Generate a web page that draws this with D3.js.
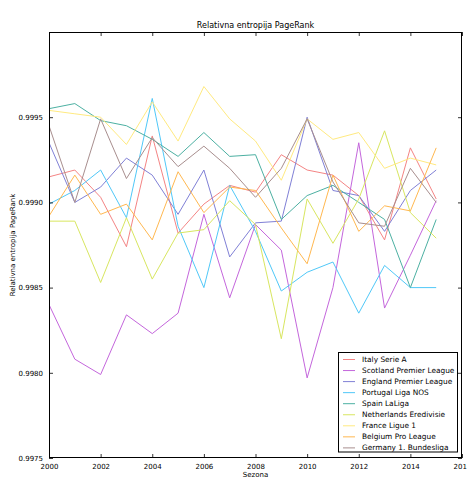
<!DOCTYPE html>
<html>
<head>
<meta charset="utf-8">
<script src="https://cdn.jsdelivr.net/npm/d3@7"></script>
<style>
html,body{margin:0;padding:0;background:#fff;}
svg{display:block;font-family:"DejaVu Sans",sans-serif;}
</style>
</head>
<body>
<svg id="chart" width="467" height="479"></svg>
<script>
const years = [2000,2001,2002,2003,2004,2005,2006,2007,2008,2009,2010,2011,2012,2013,2014,2015];
const leagues = ["Italy Serie A","Scotland Premier League","England Premier League","Portugal Liga NOS","Spain LaLiga","Netherlands Eredivisie","France Ligue 1","Belgium Pro League","Germany 1. Bundesliga"];
const italy       = [0.99915,0.99919,0.99903,0.99874,0.99939,0.99882,0.99899,0.99910,0.99906,0.99928,0.99919,0.99916,0.99904,0.99878,0.99932,0.99902];
const scotland    = [0.99840,0.99808,0.99799,0.99834,0.99823,0.99835,0.99893,0.99844,0.99887,0.99872,0.99797,0.99850,0.99935,0.99838,0.99869,0.99901];
const england     = [0.99935,0.99900,0.99909,0.99926,0.99916,0.99893,0.99919,0.99868,0.99888,0.99889,0.99950,0.99907,0.99904,0.99883,0.99907,0.99919];
const portugal    = [0.99899,0.99907,0.99919,0.99891,0.99961,0.99886,0.99850,0.99910,0.99883,0.99848,0.99859,0.99865,0.99835,0.99863,0.99850,0.99850];
const spain       = [0.99955,0.99958,0.99948,0.99945,0.99937,0.99927,0.99941,0.99927,0.99928,0.99890,0.99904,0.99910,0.99900,0.99890,0.99850,0.99890];
const netherlands = [0.99889,0.99889,0.99853,0.99891,0.99855,0.99882,0.99884,0.99901,0.99887,0.99820,0.99902,0.99876,0.99902,0.99942,0.99894,0.99879];
const france      = [0.99954,0.99952,0.99950,0.99934,0.99959,0.99936,0.99968,0.99949,0.99936,0.99913,0.99949,0.99937,0.99941,0.99920,0.99926,0.99922];
const belgium     = [0.99892,0.99916,0.99893,0.99899,0.99878,0.99918,0.99894,0.99909,0.99907,0.99885,0.99864,0.99916,0.99883,0.99898,0.99895,0.99932];
const germany     = [0.99945,0.99900,0.99949,0.99914,0.99938,0.99921,0.99933,0.99920,0.99903,0.99920,0.99949,0.99912,0.99888,0.99886,0.99920,0.99900];
const seriesValues = [italy,scotland,england,portugal,spain,netherlands,france,belgium,germany];
const colors = ["#f48484","#c466dc","#8080d6","#50c8f8","#4cb0a2","#d8e660","#ffea80","#ffb850","#a88e8e"];
const xTicks = [2000,2002,2004,2006,2008,2010,2012,2014,2016];
const yTicks = [0.9975,0.9980,0.9985,0.9990,0.9995,1.0000];
const yTickLabels = ["0.9975","0.9980","0.9985","0.9990","0.9995",""];

const svg = d3.select("#chart");
const L = 49, R = 462, T = 32, B = 458;
const x = d3.scaleLinear().domain([2000,2016]).range([L,R]);
const y = d3.scaleLinear().domain([0.9975,1.0000]).range([B,T]);

// lines
const line = d3.line().x((d,i)=>x(years[i])).y(d=>y(d));
svg.append("clipPath").attr("id","clip").append("rect")
  .attr("x",L).attr("y",T).attr("width",R-L).attr("height",B-T);
const g = svg.append("g").attr("clip-path","url(#clip)");
seriesValues.forEach((vals,k)=>{
  g.append("path").datum(vals).attr("d",line)
    .attr("fill","none").attr("stroke",colors[k]).attr("stroke-width",1);
});

// axes (ticks inward on all sides)
const fmtY = (d)=>{const i=yTicks.findIndex(t=>Math.abs(t-d)<1e-9);return i>=0?yTickLabels[i]:"";};
const axB = svg.append("g").attr("transform",`translate(0,${B})`)
  .call(d3.axisBottom(x).tickValues(xTicks).tickFormat(d3.format("d")).tickSizeInner(-4).tickSizeOuter(0).tickPadding(6));
const axT = svg.append("g").attr("transform",`translate(0,${T})`)
  .call(d3.axisTop(x).tickValues(xTicks).tickFormat("").tickSizeInner(-4).tickSizeOuter(0));
const axL = svg.append("g").attr("transform",`translate(${L},0)`)
  .call(d3.axisLeft(y).tickValues(yTicks).tickFormat(fmtY).tickSizeInner(-4).tickSizeOuter(0).tickPadding(6));
const axR = svg.append("g").attr("transform",`translate(${R},0)`)
  .call(d3.axisRight(y).tickValues(yTicks).tickFormat("").tickSizeInner(-4).tickSizeOuter(0));
[axB,axT,axL,axR].forEach(a=>{
  a.select(".domain").remove();
  a.selectAll("line").attr("stroke","#000").attr("stroke-width",0.8);
  a.selectAll("text").attr("font-size",7).attr("fill","#000").attr("font-family","DejaVu Sans");
});
axB.selectAll("text").attr("dy","0.71em");

// frame
svg.append("rect").attr("x",L+0.5).attr("y",T+0.5).attr("width",R-L-1).attr("height",B-T-1)
  .attr("fill","none").attr("stroke","#000").attr("stroke-width",1);

// title & labels
svg.append("text").attr("x",(L+R)/2).attr("y",28).attr("text-anchor","middle")
  .attr("font-size",8).text("Relativna entropija PageRank");
svg.append("text").attr("x",(L+R)/2).attr("y",477).attr("text-anchor","middle")
  .attr("font-size",7).text("Sezona");
svg.append("text").attr("transform",`translate(15,${(T+B)/2}) rotate(-90)`).attr("text-anchor","middle")
  .attr("font-size",7).text("Relativna entropija PageRank");

// legend
const lg = svg.append("g");
lg.append("rect").attr("x",338.5).attr("y",352.5).attr("width",119).attr("height",99.5)
  .attr("fill","#fff").attr("stroke","#000").attr("stroke-width",1);
leagues.forEach((name,k)=>{
  const yy = 359.5 + k*11.05;
  lg.append("line").attr("x1",343).attr("x2",355).attr("y1",yy).attr("y2",yy)
    .attr("stroke",colors[k]).attr("stroke-width",1);
  lg.append("text").attr("x",362).attr("y",yy).attr("dy","0.35em")
    .attr("font-size",7.4).text(name);
});
</script>
</body>
</html>
